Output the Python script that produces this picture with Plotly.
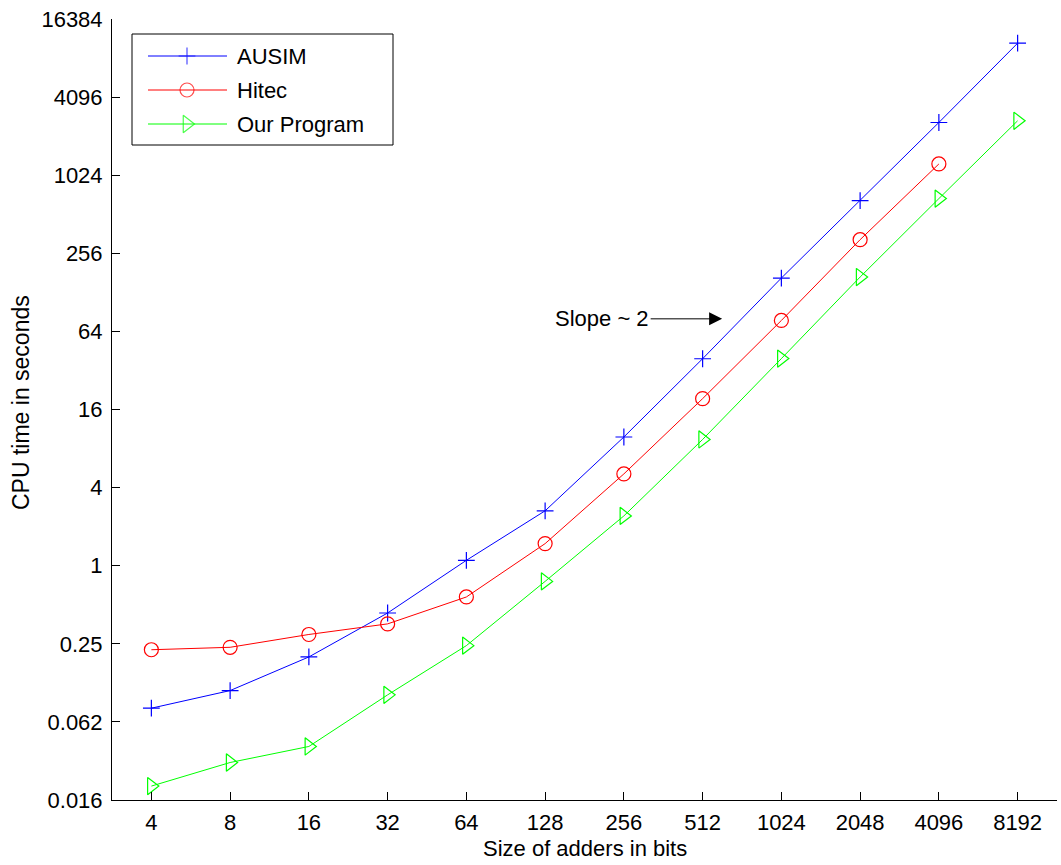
import math
import plotly.graph_objects as go

# ---- data ----
sizes = [4, 8, 16, 32, 64, 128, 256, 512, 1024, 2048, 4096, 8192]
ausim = [0.0797, 0.109, 0.198, 0.432, 1.10, 2.65, 9.82, 39.4, 165, 653, 2610, 10660]
hitec = [0.225, 0.235, 0.295, 0.356, 0.574, 1.48, 5.1, 19.4, 77.7, 326, 1250]
ours = [0.020, 0.0304, 0.0404, 0.101, 0.242, 0.757, 2.42, 9.4, 39.5, 168, 676, 2690]

series_names = ["AUSIM", "Hitec", "Our Program"]
series_colors = ["#0000ff", "#ff0000", "#00ff00"]
series_symbols = ["cross-thin-open", "circle-open", "triangle-right-open"]
series_sizes = [12, 14, 15]

x_tickvals = [4, 8, 16, 32, 64, 128, 256, 512, 1024, 2048, 4096, 8192]
x_ticktext = ["4", "8", "16", "32", "64", "128", "256", "512", "1024", "2048", "4096", "8192"]
y_tickvals = [2 ** -6, 2 ** -4, 2 ** -2, 1, 4, 16, 64, 256, 1024, 4096, 16384]
y_ticktext = ["0.016", "0.062", "0.25", "1", "4", "16", "64", "256", "1024", "4096", "16384"]

FONT = "Liberation Sans, Arial, Helvetica, sans-serif"
W, H = 1061, 865
ML, MR, MT, MB = 112, 4, 19, 65
PW, PH = W - ML - MR, H - MT - MB


def px(X):
    return (X - ML) / PW


def py(Y):
    return 1 - (Y - MT) / PH


fig = go.Figure()
for name, yvals, col, sym, sz in zip(series_names, [ausim, hitec, ours],
                                      series_colors, series_symbols, series_sizes):
    fig.add_trace(go.Scatter(
        x=sizes[:len(yvals)], y=yvals, name=name, mode="lines+markers",
        line=dict(color=col, width=1),
        marker=dict(symbol=sym, size=sz, color=col, line=dict(color=col, width=1.2)),
        showlegend=False, cliponaxis=False,
    ))

# ---- hand-built legend (MATLAB style) on an overlay axis in paper units ----
box_x0, box_x1, box_y0, box_y1 = px(132), px(393), py(145), py(34)
fig.add_trace(go.Scatter(
    x=[box_x0, box_x1, box_x1, box_x0, box_x0],
    y=[box_y0, box_y0, box_y1, box_y1, box_y0],
    mode="lines", fill="toself", fillcolor="white",
    line=dict(color="black", width=1), xaxis="x2", yaxis="y2",
    showlegend=False, hoverinfo="skip",
))
row_y = [56, 90, 124]
for name, col, sym, sz, ry in zip(series_names, series_colors, series_symbols,
                                  series_sizes, row_y):
    fig.add_trace(go.Scatter(
        x=[px(148), px(187), px(227)], y=[py(ry)] * 3,
        mode="lines+markers", line=dict(color=col, width=1),
        marker=dict(symbol=sym, size=[0, sz, 0], color=col,
                    line=dict(color=col, width=1.2)),
        xaxis="x2", yaxis="y2", showlegend=False, hoverinfo="skip", cliponaxis=False,
    ))
    fig.add_annotation(text=name, xref="paper", yref="paper",
                       x=px(235), y=py(ry), xanchor="left", yanchor="middle",
                       showarrow=False, font=dict(family=FONT, size=22, color="black"))

x_end = 2 ** 13.5

fig.update_layout(
    width=W, height=H,
    margin=dict(l=ML, r=MR, t=MT, b=MB),
    paper_bgcolor="white", plot_bgcolor="white",
    font=dict(family=FONT, size=22, color="black"),
    showlegend=False,
    xaxis=dict(
        type="log",
        range=[math.log10(2 ** 1.5), math.log10(x_end)],
        tickvals=x_tickvals + [x_end], ticktext=x_ticktext + [""],
        ticks="inside", ticklen=8, tickcolor="black", tickwidth=1,
        showline=True, linecolor="black", linewidth=1, mirror=False,
        showgrid=False, zeroline=False, automargin=False,
        tickfont=dict(family=FONT, size=22, color="black"),
        ticklabelstandoff=3,
    ),
    yaxis=dict(
        type="log",
        range=[math.log10(2 ** -6), math.log10(16384)],
        tickvals=y_tickvals, ticktext=y_ticktext,
        ticks="inside", ticklen=8, tickcolor="black", tickwidth=1,
        showline=True, linecolor="black", linewidth=1, mirror=False,
        showgrid=False, zeroline=False, automargin=False,
        tickfont=dict(family=FONT, size=22, color="black"),
        ticklabelstandoff=4,
    ),
    xaxis2=dict(overlaying="x", range=[0, 1], visible=False, fixedrange=True),
    yaxis2=dict(overlaying="y", range=[0, 1], visible=False, fixedrange=True),
)

# axis titles
fig.add_annotation(text="Size of adders in bits", xref="paper", yref="paper",
                   x=0.5, y=py(848), xanchor="center", yanchor="middle",
                   showarrow=False, font=dict(family=FONT, size=22, color="black"))
fig.add_annotation(text="CPU time in seconds", xref="paper", yref="paper",
                   x=px(21), y=py(403), xanchor="center", yanchor="middle", textangle=-90,
                   showarrow=False, font=dict(family=FONT, size=23, color="black"))

# slope annotation with arrow
fig.add_annotation(text="Slope ~ 2", xref="x", yref="y",
                   x=math.log10(608), y=math.log10(80),
                   ax=-120, ay=0, showarrow=True,
                   arrowhead=2, arrowsize=2.6, arrowwidth=1, arrowcolor="black",
                   font=dict(family=FONT, size=22, color="black"))

fig.write_html(
    "out.html",
    config={"displayModeBar": False},
    post_script="document.body.style.margin='0';document.body.style.overflow='hidden';",
)
